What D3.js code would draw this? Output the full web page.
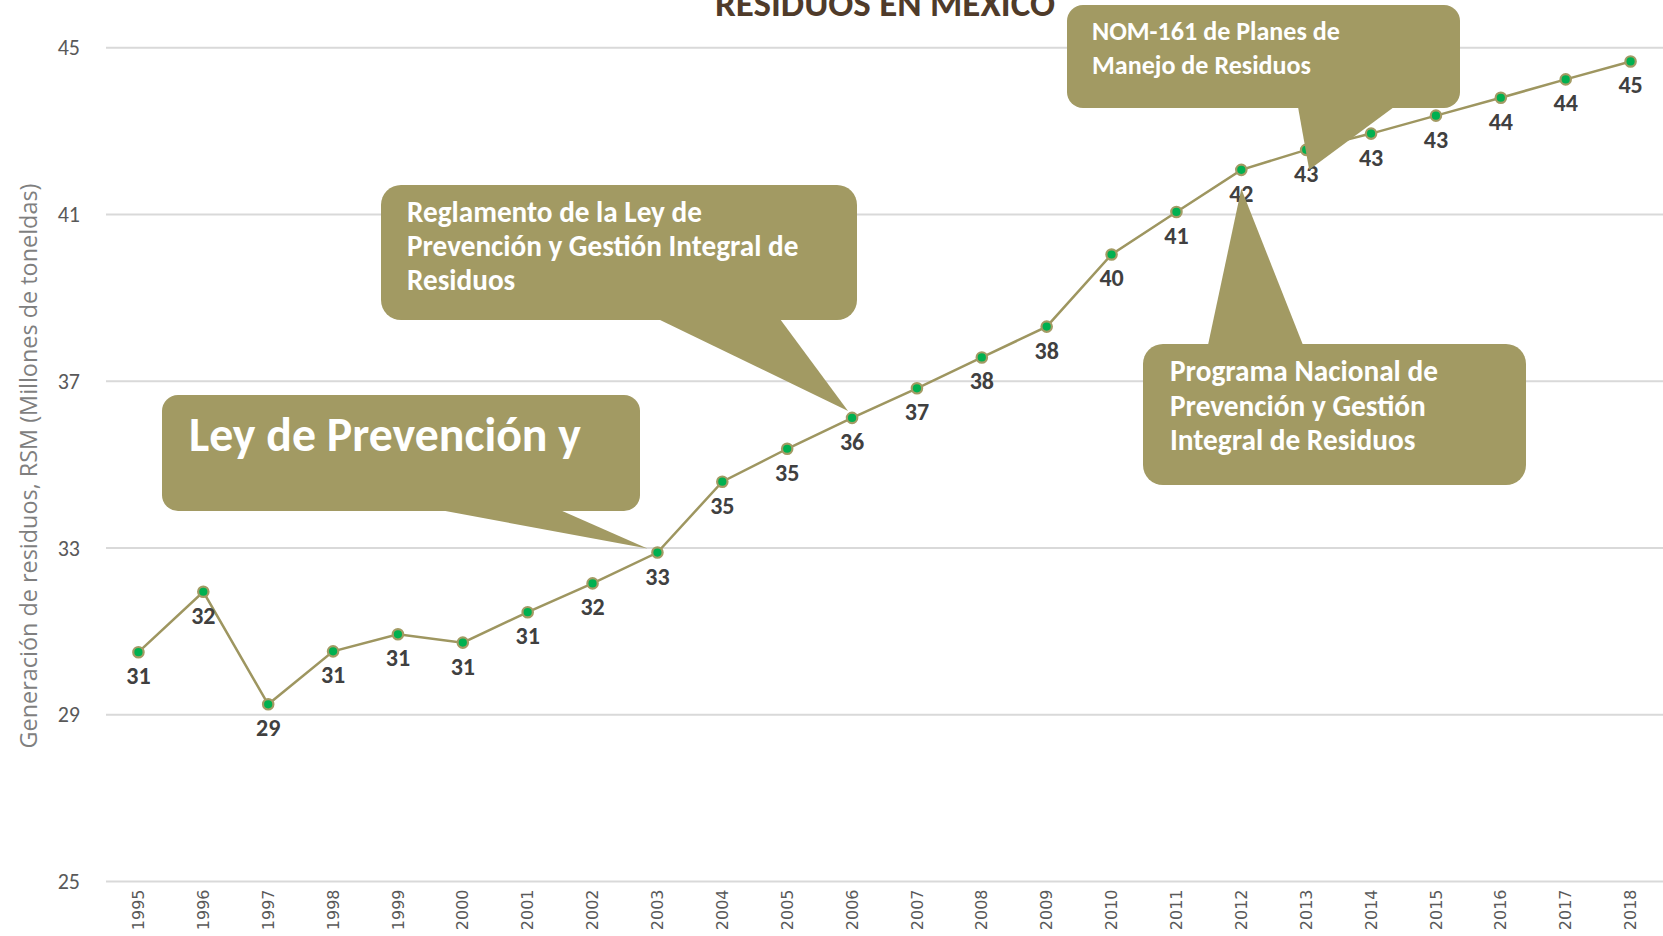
<!DOCTYPE html>
<html>
<head>
<meta charset="utf-8">
<script src="https://cdn.jsdelivr.net/npm/d3@7.9.0/dist/d3.min.js"></script>
<style>
  html, body { margin: 0; padding: 0; background: #fff; overflow: hidden; }
  svg { display: block; }
</style>
</head>
<body>
<div id="chart"></div>
<script>
// values
const years = ['1995','1996','1997','1998','1999','2000','2001','2002','2003','2004','2005','2006',
               '2007','2008','2009','2010','2011','2012','2013','2014','2015','2016','2017','2018'];
const values = [30.50, 31.95, 29.25, 30.52, 30.93, 30.73, 31.46, 32.15, 32.89, 34.59, 35.38, 36.12,
                36.83, 37.57, 38.31, 40.04, 41.06, 42.07, 42.55, 42.94, 43.37, 43.80, 44.24, 44.67];
const dataLabels = ['31','32','29','31','31','31','31','32','33','35','35','36',
                    '37','38','38','40','41','42','43','43','43','44','44','45'];
const yTicks = [25, 29, 33, 37, 41, 45];

const titleText = 'RESIDUOS EN MÉXICO';
const yTitle = 'Generación de residuos, RSM (Millones de toneldas)';

const callouts = [
  { lines: ['Ley de Prevención y'], year: '2003' },
  { lines: ['Reglamento de la Ley de', 'Prevención y Gestión Integral de', 'Residuos'], year: '2006' },
  { lines: ['NOM-161 de Planes de', 'Manejo de Residuos'], year: '2013' },
  { lines: ['Programa Nacional de', 'Prevención y Gestión', 'Integral de Residuos'], year: '2012' }
];

// layout of the callout boxes (pixels)
const boxLayout = [
  { x: 162, y: 395, w: 478, h: 116, r: 16, tx: 189, ty: 451, lh: 0, fit: 392, side: 'bottom', base: [440, 560], dx: -10, dy: -4 },
  { x: 381, y: 185, w: 476, h: 135, r: 20, tx: 407, ty: 222, lh: 34, fit: 295, side: 'bottom', base: [658, 780], dx: -4, dy: -7 },
  { x: 1067, y: 5, w: 393, h: 103, r: 16, tx: 1092, ty: 40, lh: 34, fit: 248, side: 'bottom', base: [1298, 1394], dx: 3, dy: 20 },
  { x: 1143, y: 344, w: 383, h: 141, r: 20, tx: 1170, ty: 381, lh: 34.5, fit: 268, side: 'top', base: [1208, 1303], dx: 0, dy: 19 }
];

const width = 1663, height = 936;
const margin = { left: 106, right: 0, top: 47.7, bottom: 54.5 };
const olive = '#a29a63';
const calibri = "Carlito, Lato, 'Open Sans', sans-serif";

const svg = d3.select('#chart').append('svg')
  .attr('width', width).attr('height', height);

const x = d3.scaleBand().domain(years).range([margin.left, width - margin.right]);
const y = d3.scaleLinear().domain([25, 45]).range([height - margin.bottom, margin.top]);
const cx = d => x(d) + x.bandwidth() / 2;

function fitText(sel, target) {
  const fs = parseFloat(sel.attr('font-size'));
  const len = sel.node().getComputedTextLength();
  sel.attr('font-size', fs * target / len);
}

// gridlines
svg.append('g')
  .selectAll('line')
  .data(yTicks)
  .join('line')
    .attr('x1', margin.left).attr('x2', width - margin.right)
    .attr('y1', d => y(d)).attr('y2', d => y(d))
    .attr('stroke', '#d9d9d9').attr('stroke-width', 2);

// y axis labels
svg.append('g')
  .selectAll('text')
  .data(yTicks)
  .join('text')
    .attr('x', 80).attr('y', d => y(d))
    .attr('dy', '0.35em')
    .attr('text-anchor', 'end')
    .attr('font-family', calibri)
    .attr('font-weight', 300)
    .attr('font-size', 22)
    .attr('fill', '#595959')
    .text(d => d);

// x axis labels, rotated
svg.append('g')
  .selectAll('text')
  .data(years)
  .join('text')
    .attr('transform', d => `translate(${cx(d)},${height - margin.bottom + 8}) rotate(-90)`)
    .attr('text-anchor', 'end')
    .attr('dy', '0.35em')
    .attr('font-family', "'DejaVu Sans', Verdana, sans-serif")
    .attr('font-size', 16)
    .attr('fill', '#595959')
    .text(d => d);

// y axis title
const yt = svg.append('text')
  .attr('transform', `translate(29,466) rotate(-90)`)
  .attr('text-anchor', 'middle')
  .attr('dy', '0.35em')
  .attr('font-family', "'Open Sans', sans-serif")
  .attr('font-size', 21)
  .attr('fill', '#7f7f7f')
  .text(yTitle);
fitText(yt, 565);

// title (top part cut off by the frame, as in the source)
const tt = svg.append('text')
  .attr('x', 885).attr('y', 16)
  .attr('text-anchor', 'middle')
  .attr('font-family', calibri)
  .attr('font-weight', 700)
  .attr('font-size', 30)
  .attr('fill', '#4f3b2a')
  .text(titleText);
fitText(tt, 340);

// line
svg.append('path')
  .datum(years.map((yr, i) => [cx(yr), y(values[i])]))
  .attr('fill', 'none')
  .attr('stroke', '#9e9660')
  .attr('stroke-width', 2.5)
  .attr('d', d3.line());

// markers
svg.append('g')
  .selectAll('circle')
  .data(years)
  .join('circle')
    .attr('cx', d => cx(d))
    .attr('cy', (d, i) => y(values[i]))
    .attr('r', 5.2)
    .attr('fill', '#00b050')
    .attr('stroke', '#a39b64')
    .attr('stroke-width', 2.2);

// data labels
svg.append('g')
  .selectAll('text')
  .data(years)
  .join('text')
    .attr('x', d => cx(d))
    .attr('y', (d, i) => y(values[i]) + 32)
    .attr('text-anchor', 'middle')
    .attr('font-family', calibri)
    .attr('font-weight', 700)
    .attr('font-size', 24)
    .attr('fill', '#404040')
    .text((d, i) => dataLabels[i]);

// callouts
callouts.forEach((c, k) => {
  const b = boxLayout[k];
  const i = years.indexOf(c.year);
  const tip = [cx(c.year) + b.dx, y(values[i]) + b.dy];
  const g = svg.append('g');
  const edge = b.side === 'bottom' ? b.y + b.h - 1 : b.y + 1;
  g.append('path')
    .attr('d', d3.line()([[b.base[0], edge], [b.base[1], edge], tip]) + 'Z')
    .attr('fill', olive);
  g.append('rect')
    .attr('x', b.x).attr('y', b.y)
    .attr('width', b.w).attr('height', b.h)
    .attr('rx', b.r).attr('ry', b.r)
    .attr('fill', olive);
  const texts = g.selectAll('text')
    .data(c.lines)
    .join('text')
      .attr('x', b.tx)
      .attr('y', (d, j) => b.ty + j * b.lh)
      .attr('font-family', calibri)
      .attr('font-weight', 700)
      .attr('font-size', 24)
      .attr('fill', '#ffffff')
      .text(d => d);
  const first = d3.select(texts.nodes()[0]);
  const fs = 24 * b.fit / first.node().getComputedTextLength();
  texts.attr('font-size', fs);
});
</script>
</body>
</html>
